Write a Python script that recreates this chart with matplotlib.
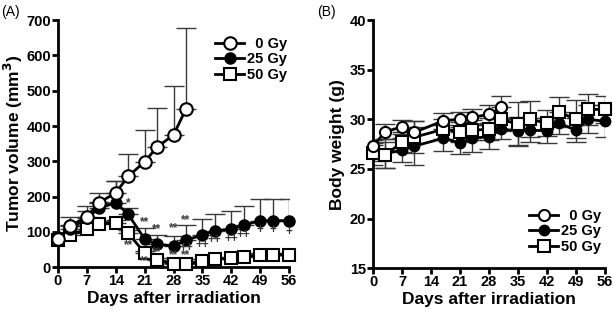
import numpy as np
import matplotlib.pyplot as plt

plt.rcParams['font.family'] = ['Liberation Sans', 'DejaVu Sans']
plt.rcParams['font.weight'] = 'bold'
plt.rcParams['axes.labelweight'] = 'bold'
plt.rcParams['mathtext.default'] = 'bf'

# tumor volume (A)
days_a = [0, 3, 7, 10, 14, 17, 21, 24, 28, 31, 35, 38, 42, 45, 49, 52, 56]
days_0gy = days_a[:10]
vol_0gy = [79, 117, 143, 183, 211, 257, 299, 340, 375, 448]
err_0gy = [8, 26, 31, 27, 34, 64, 90, 110, 139, 230]
vol_25gy = [86, 108, 140, 167, 183, 150, 80, 65, 60, 77, 91, 103, 108, 119, 132, 132, 132]
err_25gy = [6, 12, 20, 18, 60, 17, 30, 26, 29, 43, 45, 48, 50, 53, 61, 61, 61]
vol_50gy = [77, 91, 108, 123, 125, 96, 41, 21, 8, 8, 18, 23, 25, 30, 35, 35, 35]
err_50gy = [5, 6, 8, 8, 10, 8, 5, 4, 3, 3, 4, 4, 5, 5, 5, 5, 5]
xticks = [0, 7, 14, 21, 28, 35, 42, 49, 56]
yticks_a = [0, 100, 200, 300, 400, 500, 600, 700]
yticks_b = [15, 20, 25, 30, 35, 40]

# significance marks (day, y, text)
sig_days = [17, 21, 24, 28, 31, 17, 21, 24, 28, 31, 31, 35, 38, 42, 45, 49, 52, 56]
sig_y = [181, 129, 108, 110, 134, 63, 16, 44, 35, 35, 55, 63, 77, 80, 91, 106, 106, 101]
sig_txt = ['*', '**', '**', '**', '**', '**', '**', '**', '**', '**',
           '++', '++', '++', '++', '++', '+', '+', '+']

# body weight (B)
days_b = [0, 3, 7, 10, 17, 21, 24, 28, 31, 35, 38, 42, 45, 49, 52, 56]
days_b0 = days_b[:9]
bw_0gy = [27.3, 28.75, 29.25, 28.7, 29.85, 30.0, 30.2, 30.5, 31.2]
bwe_0gy = [0.6, 0.75, 0.7, 1.1, 0.8, 0.75, 0.8, 0.9, 1.1]
bw_25gy = [26.5, 26.55, 26.9, 27.3, 28.1, 27.6, 28.1, 28.25, 29.0, 28.85, 28.9, 28.85, 29.6, 28.9, 30.0, 29.8]
bwe_25gy = [1.1, 1.5, 1.2, 1.9, 1.3, 1.1, 1.4, 1.2, 1.0, 1.4, 1.2, 1.25, 1.1, 1.2, 1.4, 1.6]
bw_50gy = [26.6, 26.4, 27.7, 28.2, 29.0, 28.75, 28.9, 29.0, 30.0, 29.5, 30.0, 29.6, 30.7, 30.0, 31.0, 31.0]
bwe_50gy = [0.8, 1.3, 1.0, 1.6, 1.0, 1.0, 1.0, 1.1, 1.2, 2.2, 1.8, 1.3, 1.5, 1.9, 1.6, 1.4]

fig = plt.figure(figsize=(6.13, 3.14), dpi=100)
ax1 = fig.add_axes([0.0946, 0.149, 0.377, 0.787])
ax2 = fig.add_axes([0.6085, 0.146, 0.3785, 0.79])

lw = 2
ebk = dict(ecolor='#3a3a3a', elinewidth=1, capsize=7, capthick=1)


def style(ax, yticks):
    for s in ['top', 'right']:
        ax.spines[s].set_visible(False)
    for s in ['left', 'bottom']:
        ax.spines[s].set_linewidth(2)
    ax.tick_params(width=2, length=4, pad=1)
    ax.set_xticks(xticks, labels=[str(t) for t in xticks], fontsize=10.5, fontweight='bold')
    ax.set_yticks(yticks, labels=[str(t) for t in yticks], fontsize=10.5, fontweight='bold')
    ax.set_xlim(0, 56)
    ax.set_ylim(yticks[0], yticks[-1])
    ax.set_xlabel('Days after irradiation', fontsize=12.5, fontweight='bold', labelpad=2)


# panel A
ax1.errorbar(days_0gy, vol_0gy, yerr=[np.zeros(len(err_0gy)), err_0gy], fmt='none', **ebk, zorder=1)
ax1.errorbar(days_a, vol_25gy, yerr=[np.zeros(len(err_25gy)), err_25gy], fmt='none', **ebk, zorder=1)
ax1.errorbar(days_a, vol_50gy, yerr=[np.zeros(len(err_50gy)), err_50gy], fmt='none', **ebk, zorder=1)
ax1.plot(days_a, vol_50gy, '-s', color='black', mfc='white', mec='black', ms=8.5, mew=1.5, lw=lw,
         label='50 Gy', clip_on=False, zorder=3)
ax1.plot(days_a, vol_25gy, '-o', color='black', mfc='black', ms=8, lw=lw, label='25 Gy',
         clip_on=False, zorder=4)
ax1.plot(days_0gy, vol_0gy, '-o', color='black', mfc='white', mec='black', ms=9, mew=1.5, lw=lw,
         label='0 Gy', clip_on=False, zorder=5)
for d, y, t in zip(sig_days, sig_y, sig_txt):
    ax1.text(d, y, t, ha='center', va='center', fontsize=8.5, color='#3a3a3a', zorder=6)
ax1.set_ylabel('Tumor volume (mm$^3$)', fontsize=12.5, fontweight='bold', labelpad=1)
style(ax1, yticks_a)
h, l = ax1.get_legend_handles_labels()
ax1.legend(h[::-1], ['  0 Gy', '25 Gy', '50 Gy'], loc='upper right', bbox_to_anchor=(1.05, 0.985),
           frameon=False, prop={'size': 10.5, 'weight': 'bold'}, handlelength=2,
           handletextpad=0.2, labelspacing=0.1)
fig.text(0.002, 0.985, '(A)', fontsize=10, fontweight='normal', va='top')

# panel B
ax2.errorbar(days_b0, bw_0gy, yerr=bwe_0gy, fmt='none', **ebk, zorder=1)
ax2.errorbar(days_b, bw_25gy, yerr=bwe_25gy, fmt='none', **ebk, zorder=1)
ax2.errorbar(days_b, bw_50gy, yerr=bwe_50gy, fmt='none', **ebk, zorder=1)
ax2.plot(days_b, bw_25gy, '-o', color='black', mfc='black', ms=7.5, lw=lw, label='25 Gy',
         clip_on=False, zorder=3)
ax2.plot(days_b, bw_50gy, '-s', color='black', mfc='white', mec='black', ms=8, mew=1.5, lw=lw,
         label='50 Gy', clip_on=False, zorder=4)
ax2.plot(days_b0, bw_0gy, '-o', color='black', mfc='white', mec='black', ms=8, mew=1.5, lw=lw,
         label='0 Gy', clip_on=False, zorder=5)
ax2.set_ylabel('Body weight (g)', fontsize=12.5, fontweight='bold', labelpad=3)
style(ax2, yticks_b)
h, l = ax2.get_legend_handles_labels()
ax2.legend([h[2], h[0], h[1]], ['  0 Gy', '25 Gy', '50 Gy'], loc='lower right',
           bbox_to_anchor=(1.04, 0.005), frameon=False, prop={'size': 10.5, 'weight': 'bold'},
           handlelength=2, handletextpad=0.2, labelspacing=0.1)
fig.text(0.518, 0.985, '(B)', fontsize=10, fontweight='normal', va='top')

fig.savefig('out.png', dpi=100)
